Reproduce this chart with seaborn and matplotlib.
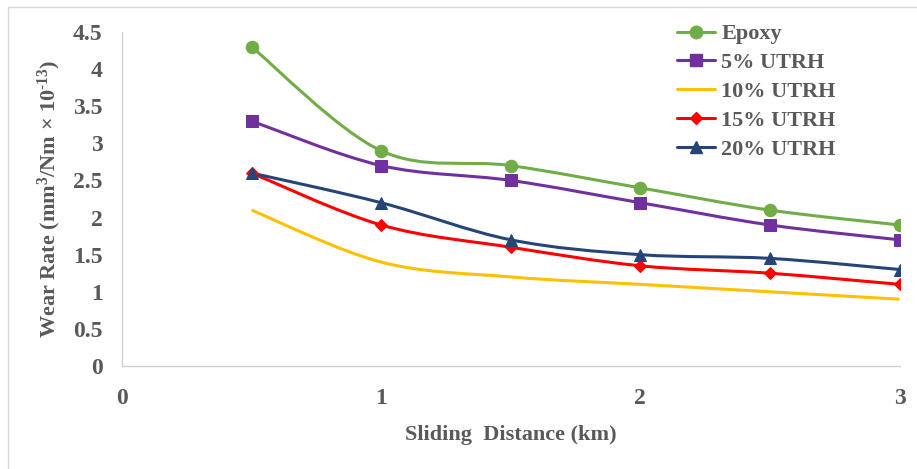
import numpy as np
import pandas as pd
import seaborn as sns
import matplotlib.pyplot as plt
from matplotlib.path import Path
from matplotlib.patches import PathPatch, Rectangle
from matplotlib.lines import Line2D

# data
distance = [0.5, 1.0, 1.5, 2.0, 2.5, 3.0]
epoxy = [4.3, 2.9, 2.7, 2.4, 2.1, 1.9]
utrh_5 = [3.3, 2.7, 2.5, 2.2, 1.9, 1.7]
utrh_10 = [2.1, 1.4, 1.2, 1.1, 1.0, 0.9]
utrh_15 = [2.6, 1.9, 1.6, 1.35, 1.25, 1.1]
utrh_20 = [2.6, 2.2, 1.7, 1.5, 1.45, 1.3]

labels = ["Epoxy", "5% UTRH", "10% UTRH", "15% UTRH", "20% UTRH"]
series = [epoxy, utrh_5, utrh_10, utrh_15, utrh_20]
colors = ["#70AD47", "#7030A0", "#FFC000", "#FF0000", "#264478"]
markers = ["o", "s", None, "D", "^"]
msizes = [9, 9, 0, 6.5, 9]

df = pd.DataFrame({"Distance": distance * len(labels),
                   "Wear": sum(series, []),
                   "Material": [l for l in labels for _ in distance]})

sns.set_style("white")
plt.rcParams["font.family"] = ["Liberation Serif", "DejaVu Serif"]
plt.rcParams["font.weight"] = "bold"
plt.rcParams["mathtext.fontset"] = "custom"
plt.rcParams["mathtext.rm"] = "Liberation Serif:bold"
plt.rcParams["mathtext.bf"] = "Liberation Serif:bold"
plt.rcParams["mathtext.default"] = "bf"
gray = "#595959"

fig = plt.figure(figsize=(9.17, 4.69), dpi=100)
ax = fig.add_axes([0.133, 0.2196, 0.848, 0.7122])


def smooth_path(xs, ys):
    # Excel-style smoothed line: Catmull-Rom segments as cubic Bezier curves
    pts = np.column_stack([xs, ys])
    ext = np.vstack([pts[0], pts, pts[-1]])
    verts = [pts[0]]
    codes = [Path.MOVETO]
    for i in range(1, len(ext) - 2):
        p0, p1, p2, p3 = ext[i - 1], ext[i], ext[i + 1], ext[i + 2]
        verts += [p1 + (p2 - p0) / 6, p2 - (p3 - p1) / 6, p2]
        codes += [Path.CURVE4] * 3
    return Path(verts, codes)


for lab, ys, c, m, ms in zip(labels, series, colors, markers, msizes):
    ax.add_patch(PathPatch(smooth_path(distance, ys), fill=False,
                           edgecolor=c, lw=2.2, zorder=2))
    if m is not None:
        sub = df[df["Material"] == lab]
        sns.lineplot(data=sub, x="Distance", y="Wear", ax=ax, color=c,
                     marker=m, markersize=ms, markeredgecolor=c,
                     linewidth=0, legend=False, zorder=3)

ax.set_xlim(0, 3)
ax.set_ylim(0, 4.5)
ax.set_xticks([0, 1, 2, 3])
ax.set_yticks(np.arange(0, 4.51, 0.5))
ax.set_yticklabels(["0", "0.5", "1", "1.5", "2", "2.5", "3", "3.5", "4", "4.5"])
ax.tick_params(axis="both", length=0, labelsize=17, labelcolor=gray)
ax.tick_params(axis="x", pad=16)
ax.tick_params(axis="y", pad=14)
for t in ax.get_xticklabels() + ax.get_yticklabels():
    t.set_fontweight("bold")

for s in ["top", "right"]:
    ax.spines[s].set_visible(False)
for s in ["left", "bottom"]:
    ax.spines[s].set_color("#D0D0D0")
    ax.spines[s].set_linewidth(1)

ax.set_xlabel("Sliding  Distance (km)", fontsize=16, color=gray,
              fontweight="bold", labelpad=11)
ax.set_ylabel(r"Wear Rate (mm$^{3}$/Nm $\times$ 10$^{\text{-13}}$)",
              fontsize=16, color=gray, fontweight="bold", labelpad=7)

handles = [Line2D([], [], color=c, lw=2.2, marker=m if m else None,
                  markersize=ms, markeredgecolor=c)
           for c, m, ms in zip(colors, markers, msizes)]
leg = ax.legend(handles, labels, loc="upper left",
                bbox_to_anchor=(668 / 917, 1 - 15 / 469),
                bbox_transform=fig.transFigure, borderaxespad=0,
                frameon=False, fontsize=16, handlelength=1.7,
                labelspacing=0.37, handletextpad=0.3)
for t in leg.get_texts():
    t.set_color(gray)
    t.set_fontweight("bold")

fig.patches.append(Rectangle((0.009, -0.01), 1.0, 0.995, transform=fig.transFigure,
                             fill=False, edgecolor="#D9D9D9", lw=1))

fig.savefig("out.png", dpi=100)
